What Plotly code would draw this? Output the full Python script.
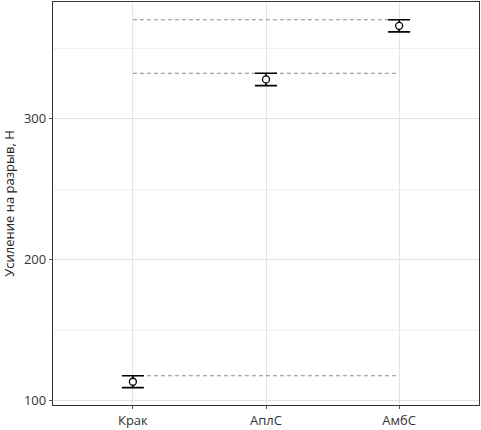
import plotly.graph_objects as go

categories = ["Крак", "АплС", "АмбС"]
means = [113.5, 327.8, 365.8]
errors = [4.2, 4.4, 4.3]
y_ticks = [100, 200, 300]

fig = go.Figure()

# dashed reference lines at the upper bound of each interval
for m, e in zip(means, errors):
    fig.add_trace(go.Scatter(
        x=[categories[0], categories[-1]], y=[m + e, m + e],
        mode="lines", line=dict(color="#8c8c8c", width=1.1, dash="4px,3px"),
        hoverinfo="skip", showlegend=False))

fig.add_trace(go.Scatter(
    x=categories, y=means, mode="markers",
    marker=dict(symbol="circle", size=7, color="white",
                line=dict(width=1.3, color="black")),
    error_y=dict(type="data", array=errors, visible=True, color="black",
                 thickness=1.6, width=11),
    showlegend=False))

fig.update_layout(
    width=481, height=430,
    margin=dict(l=53, r=1, t=1, b=23),
    plot_bgcolor="white", paper_bgcolor="white",
    font=dict(family="Open Sans", size=13, color="#222222"),
    xaxis=dict(
        type="category", categoryorder="array", categoryarray=categories,
        range=[-0.6, 2.6],
        showgrid=True, gridcolor="#e4e4e4", gridwidth=1,
        showline=True, linecolor="#333333", linewidth=1.3, mirror=True,
        ticks="outside", ticklen=3, tickcolor="#555555",
        tickfont=dict(size=13, color="#333333"), zeroline=False,
    ),
    yaxis=dict(
        range=[97.0, 382.7],
        tickvals=y_ticks,
        showgrid=True, gridcolor="#e4e4e4", gridwidth=1,
        minor=dict(tickvals=[150, 250, 350], showgrid=True, gridcolor="#efefef", gridwidth=1),
        showline=True, linecolor="#333333", linewidth=1.3, mirror=True,
        ticks="outside", ticklen=3, tickcolor="#555555",
        tickfont=dict(size=13, color="#333333"), zeroline=False,
        title=dict(text="Усиление на разрыв, Н", font=dict(size=13, color="#222222"), standoff=6),
    ),
)

fig.write_html("out.html", config={"displayModeBar": False},
               post_script="document.body.style.margin='0';document.body.style.overflow='hidden';")
